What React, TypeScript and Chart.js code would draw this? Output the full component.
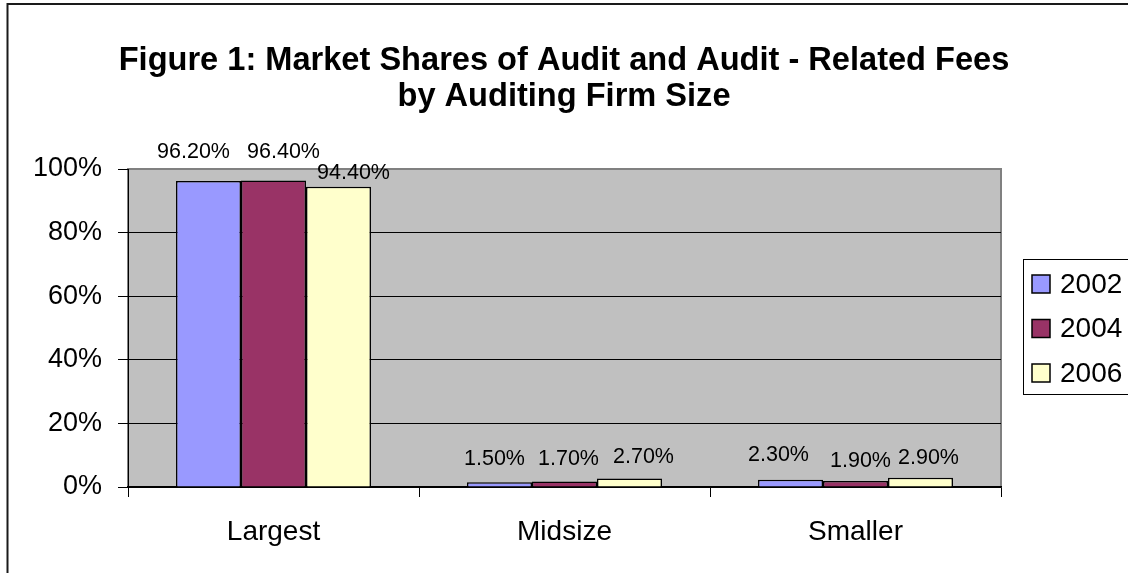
import React, { useEffect, useRef } from "react";
import { Chart, registerables } from "chart.js";

Chart.register(...registerables);

const categories = ["Largest", "Midsize", "Smaller"];
const seriesLabels = ["2002", "2004", "2006"];
const values2002 = [96.2, 1.5, 2.3];
const values2004 = [96.4, 1.7, 1.9];
const values2006 = [94.4, 2.7, 2.9];
const yMin = 0;
const yMax = 100;
const yStep = 20;
const titleLines = [
  "Figure 1: Market Shares of Audit and Audit - Related Fees",
  "by Auditing Firm Size",
];

const seriesColors = ["#9999FF", "#993366", "#FFFFCC"];
// label nudges (px) relative to each bar's top centre, per series per category
const labelLift = [
  [29, 23, 25],
  [28, 23, 20],
  [14, 21, 20],
];
const labelShift = [
  [-15, -5, -12],
  [10, 4, 5],
  [15, 14, 8],
];

const FONT = '"Liberation Sans", Arial, Helvetica, sans-serif';

const decorPlugin = {
  id: "decor",
  beforeDraw(chart: any) {
    const { ctx, chartArea: a } = chart;
    ctx.save();
    ctx.fillStyle = "#FFFFFF";
    ctx.fillRect(0, 0, chart.width, chart.height);
    // outer chart border (left + top visible)
    ctx.strokeStyle = "#1a1a1a";
    ctx.lineWidth = 2;
    ctx.beginPath();
    ctx.moveTo(7.5, chart.height + 2);
    ctx.lineTo(7.5, 4);
    ctx.lineTo(chart.width + 2, 4);
    ctx.stroke();
    // plot area
    ctx.fillStyle = "#C0C0C0";
    ctx.fillRect(a.left, a.top, a.right - a.left, a.bottom - a.top);
    ctx.strokeStyle = "#808080";
    ctx.lineWidth = 2;
    ctx.strokeRect(a.left, a.top, a.right - a.left, a.bottom - a.top);
    ctx.restore();
  },
  afterDraw(chart: any) {
    const { ctx } = chart;
    ctx.save();
    // title
    ctx.fillStyle = "#000";
    ctx.textAlign = "center";
    ctx.textBaseline = "middle";
    ctx.font = `bold 32.6px ${FONT}`;
    titleLines.forEach((line, i) => {
      ctx.fillText(line, chart.width / 2, 61 + i * 36);
    });

    // data labels
    ctx.font = `21.5px ${FONT}`;
    chart.data.datasets.forEach((ds: any, di: number) => {
      const meta = chart.getDatasetMeta(di);
      meta.data.forEach((el: any, i: number) => {
        const v = ds.data[i] as number;
        ctx.fillText(v.toFixed(2) + "%", el.x + labelShift[di][i], el.y - labelLift[di][i]);
      });
    });

    // legend
    const lx = 1023.5;
    const ly = 259.5;
    ctx.fillStyle = "#FFFFFF";
    ctx.fillRect(lx, ly, 200, 135);
    ctx.strokeStyle = "#000";
    ctx.lineWidth = 1;
    ctx.strokeRect(lx, ly, 200, 135);
    ctx.font = `28px ${FONT}`;
    ctx.textAlign = "left";
    chart.data.datasets.forEach((ds: any, di: number) => {
      const cy = 284 + di * 44.5;
      ctx.fillStyle = ds.backgroundColor;
      ctx.fillRect(1032, cy - 9, 18, 18);
      ctx.strokeStyle = "#000";
      ctx.lineWidth = 1.5;
      ctx.strokeRect(1032, cy - 9, 18, 18);
      ctx.fillStyle = "#000";
      ctx.fillText(ds.label, 1060, cy + 1);
    });
    ctx.restore();
  },
};

export default function App() {
  const canvasRef = useRef<HTMLCanvasElement | null>(null);

  useEffect(() => {
    const canvas = canvasRef.current;
    if (!canvas) return;
    const seriesValues = [values2002, values2004, values2006];
    const chart = new Chart(canvas, {
      type: "bar",
      data: {
        labels: categories,
        datasets: seriesLabels.map((label, i) => ({
          label,
          data: seriesValues[i],
          backgroundColor: seriesColors[i],
          borderColor: "#000000",
          borderWidth: 1.5,
          categoryPercentage: 0.67,
          barPercentage: 1.0,
        })),
      },
      options: {
        responsive: false,
        animation: false,
        devicePixelRatio: 1,
        layout: { padding: { top: 169, right: 127, bottom: 0, left: 0 } },
        plugins: {
          legend: { display: false },
          title: { display: false },
          tooltip: { enabled: false },
        },
        scales: {
          x: {
            offset: true,
            grid: {
              display: true,
              offset: true,
              drawOnChartArea: false,
              drawTicks: true,
              tickLength: 10,
              color: "#000",
              lineWidth: 1,
            },
            border: { display: true, color: "#000", width: 1.5 },
            ticks: {
              color: "#000",
              font: { family: FONT, size: 28 },
              padding: 18,
              maxRotation: 0,
            },
            afterFit(scale: any) {
              scale.height = 86;
            },
          },
          y: {
            min: yMin,
            max: yMax,
            grid: {
              color: (c: any) => (c.tick && c.tick.value === yMax ? "#808080" : "#000"),
              tickColor: "#000",
              lineWidth: 1,
              tickLength: 10,
            },
            border: { display: true, color: "#000", width: 1 },
            ticks: {
              stepSize: yStep,
              color: "#000",
              font: { family: FONT, size: 27 },
              padding: 16,
              callback: (v: any) => v + "%",
            },
            afterFit(scale: any) {
              scale.width = 128;
            },
          },
        },
      },
      plugins: [decorPlugin],
    });
    return () => chart.destroy();
  }, []);

  return (
    <div style={{ position: "absolute", left: 0, top: 0, width: 1128, height: 573 }}>
      <canvas ref={canvasRef} width={1128} height={573} style={{ display: "block" }} />
    </div>
  );
}
